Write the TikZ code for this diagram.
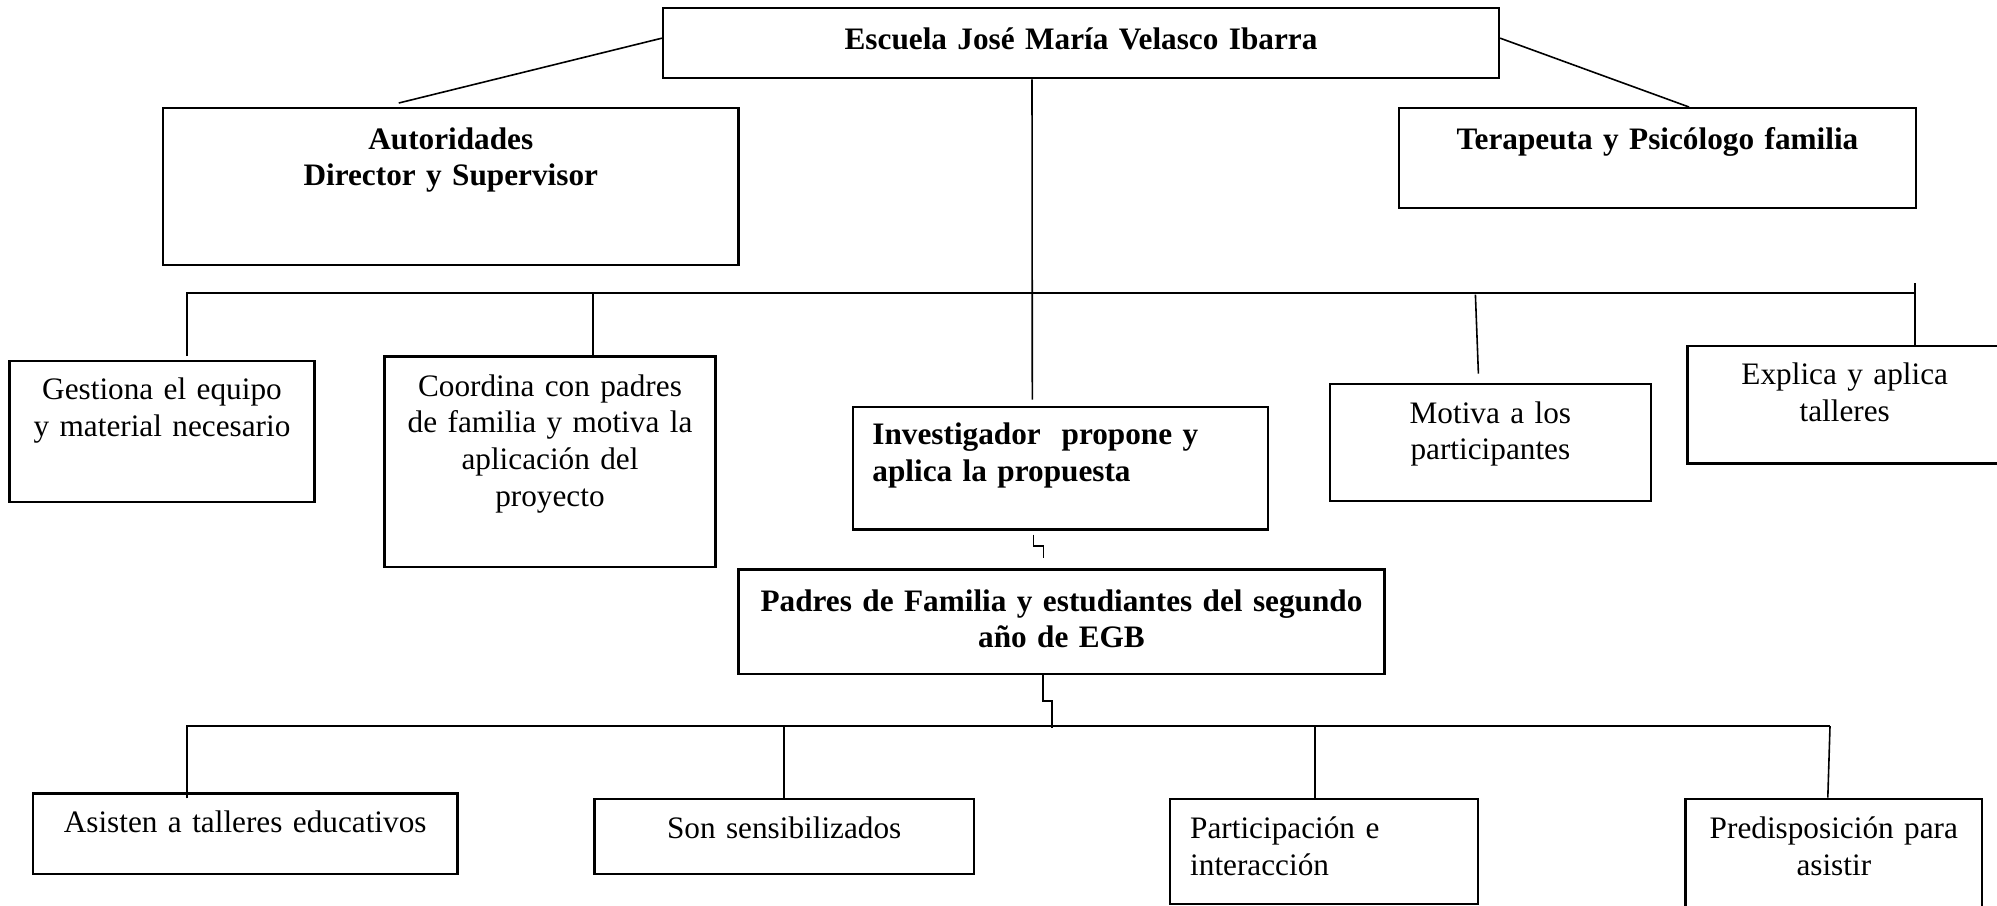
\documentclass[tikz,border=0pt]{standalone}
\usepackage{fontspec}
\setmainfont{Liberation Serif}
\usetikzlibrary{calc}
\newcommand{\orgfont}{\fontsize{11.75pt}{13.8pt}\selectfont}

\begin{document}
\begin{tikzpicture}[x=0.376pt, y=-0.376pt, line width=.6pt,
	box/.style={draw, line width=.9pt, inner sep=0pt, anchor=north, align=center, font=\orgfont},
	boldbox/.style={box, font=\orgfont\bfseries},
	leftbox/.style={box, align=left}]
	\useasboundingbox (0,0) rectangle (1997,905);
	\clip (0,0) rectangle (1997,905);

	% top level
	\node[boldbox, minimum width=314.3pt, text width=300pt, text height=15.4pt, text depth=10.9pt] (esc) at (1081,7) {Escuela José María Velasco Ibarra};
	\node[boldbox, minimum width=216.4pt, text width=200pt, text height=15.4pt, text depth=43.6pt] (aut) at (450.8,107) {Autoridades\\Director y Supervisor};
	\node[boldbox, minimum width=194.4pt, text width=185pt, text height=15.4pt, text depth=22.2pt] (ter) at (1657.5,107) {Terapeuta y Psicólogo familia};

	% second row
	\node[box, minimum width=114.6pt, text width=110pt, text height=14.4pt, text depth=38.5pt] (ges) at (162,360) {Gestiona el equipo\\y material necesario};
	\node[box, minimum width=124.5pt, text width=118pt, text height=14.9pt, text depth=64.2pt] (coo) at (550,355.3) {Coordina con padres\\de familia y motiva la\\aplicación del\\proyecto};
	\node[leftbox, font=\orgfont\bfseries, minimum width=156.1pt, text width=141.3pt, text height=14.1pt, text depth=32pt] (inv) at (1060.3,405.7) {Investigador~~propone y\\aplica la propuesta};
	\node[box, minimum width=120.8pt, text width=112pt, text height=14.7pt, text depth=29.4pt] (mot) at (1490.4,382.7) {Motiva a los\\participantes};
	\node[box, minimum width=118.3pt, text width=110pt, text height=14.4pt, text depth=29.7pt] (exp) at (1844.7,345) {Explica y aplica\\talleres};

	\node[boldbox, minimum width=242.9pt, text width=234pt, text height=15.7pt, text depth=23.6pt] (pad) at (1061.5,568.3) {Padres de Familia y estudiantes del segundo\\año de EGB};

	% bottom row
	\node[box, minimum width=159.5pt, text width=150pt, text height=14.8pt, text depth=15.4pt] (asi) at (245.2,792.3) {Asisten a talleres educativos};
	\node[box, minimum width=142.7pt, text width=134pt, text height=14.9pt, text depth=13.3pt] (son) at (784.2,797.7) {Son sensibilizados};
	\node[leftbox, minimum width=115.8pt, text width=100.4pt, text height=14.9pt, text depth=24.7pt] (par) at (1323.7,797.7) {Participación e\\interacción};
	\node[box, minimum width=111.4pt, text width=108pt, text height=14.9pt, text depth=30pt] (pre) at (1833.8,797.7) {Predisposición para\\asistir};

	% connectors from the school
	\draw ($(esc.west)+(0,-5)$) -- ($(aut.north)+(-52,-4)$);
	\draw ($(esc.east)+(0,-5)$) -- ($(ter.north)+(31.5,0)$);
	\draw ($(esc.south)+(-49,0)$) -- ($(inv.north)+(-28,-6)$);

	% upper bus
	\coordinate (busR) at (1915,293);
	\draw ($(ges.north)+(25,-4)$) |- (busR);
	\draw ($(coo.north)+(43,0)$) -- ++(0,-62);
	\draw ($(mot.north)+(-12,-9)$) -- ($(mot.north)+(-15,-88)$);
	\draw ($(exp.north)+(70,0)$) -- ++(0,-62);

	\draw ($(inv.south)+(-27,4)$) -- ++(0,11) -- ++(10,0) -- ++(0,12);

	% lower bus
	\coordinate (busB) at (1830,726);
	\draw ($(pad.south)+(-18.5,0)$) -- ++(0,26) -- ++(9,0) -- ++(0,27);
	\draw ($(asi.north)+(-58,6)$) |- (busB);
	\draw (busB) -- ($(pre.north)+(-6,0)$);
	\draw (son.north) -- ++(0,-72);
	\draw ($(par.north)+(-9,0)$) -- ++(0,-72);
\end{tikzpicture}
\end{document}
